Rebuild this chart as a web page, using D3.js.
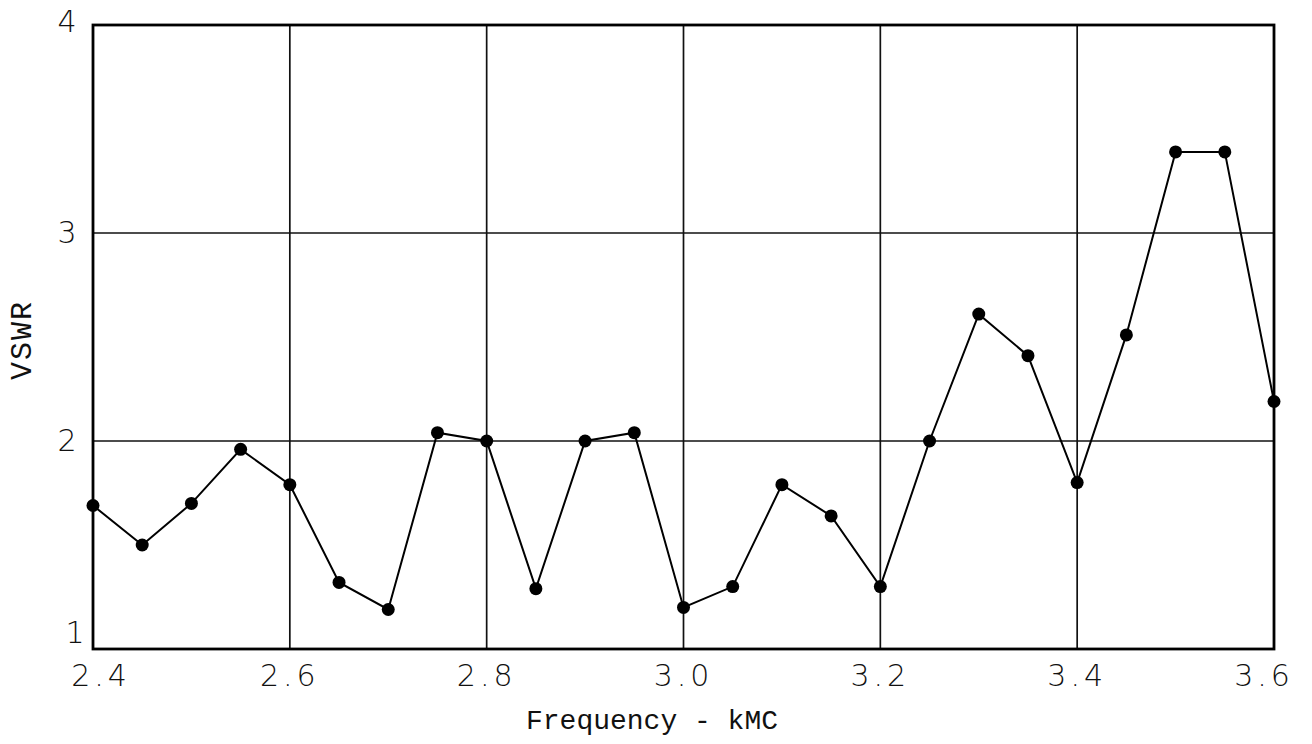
<!DOCTYPE html>
<html>
<head>
<meta charset="utf-8">
<script src="https://cdn.jsdelivr.net/npm/d3@7"></script>
<style>
  html, body { margin: 0; padding: 0; background: #fff; }
  #chart { width: 1312px; height: 744px; }
</style>
</head>
<body>
<div id="chart"></div>
<script>
// VSWR measured every 0.05 kMC from 2.4 to 3.6
const frequency = [2.40, 2.45, 2.50, 2.55, 2.60, 2.65, 2.70, 2.75, 2.80, 2.85, 2.90, 2.95, 3.00,
                   3.05, 3.10, 3.15, 3.20, 3.25, 3.30, 3.35, 3.40, 3.45, 3.50, 3.55, 3.60];
const vswr = [1.69, 1.50, 1.70, 1.96, 1.79, 1.32, 1.19, 2.04, 2.00, 1.29, 2.00, 2.04, 1.20,
              1.30, 1.79, 1.64, 1.30, 2.00, 2.61, 2.41, 1.80, 2.51, 3.39, 3.39, 2.19];
const xTicks = [2.4, 2.6, 2.8, 3.0, 3.2, 3.4, 3.6];
const xTickLabels = ["2.4", "2.6", "2.8", "3.0", "3.2", "3.4", "3.6"];
const yTicks = [1, 2, 3, 4];
const yTickLabels = ["1", "2", "3", "4"];
const xTitle = "Frequency - kMC";
const yTitle = "VSWR";

const margin = { top: 25, right: 38, bottom: 95, left: 93 };
const fullW = 1312, fullH = 744;
const width = fullW - margin.left - margin.right;
const height = fullH - margin.top - margin.bottom;

const svg = d3.select("#chart").append("svg")
  .attr("width", fullW)
  .attr("height", fullH);

const g = svg.append("g")
  .attr("transform", `translate(${margin.left},${margin.top})`);

const x = d3.scaleLinear().domain([2.4, 3.6]).range([0, width]);
const y = d3.scaleLinear().domain([1, 4]).range([height, 0]);

// grid lines
g.append("g")
  .selectAll("line")
  .data(xTicks.slice(1, -1))
  .join("line")
  .attr("x1", d => x(d)).attr("x2", d => x(d))
  .attr("y1", 0).attr("y2", height)
  .attr("stroke", "#111").attr("stroke-width", 1.7);

g.append("g")
  .selectAll("line")
  .data(yTicks.slice(1, -1))
  .join("line")
  .attr("x1", 0).attr("x2", width)
  .attr("y1", d => y(d)).attr("y2", d => y(d))
  .attr("stroke", "#111").attr("stroke-width", 1.7);

// frame
g.append("rect")
  .attr("x", 0).attr("y", 0)
  .attr("width", width).attr("height", height)
  .attr("fill", "none")
  .attr("stroke", "#000")
  .attr("stroke-width", 2.8);

// tick labels
const tickFont = "'DejaVu Sans', sans-serif";

g.append("g")
  .selectAll("text")
  .data(xTicks)
  .join("text")
  .attr("x", (d, i) => x(d) + (i === 0 ? 8 : i === xTicks.length - 1 ? -10 : 0))
  .attr("y", height + 37)
  .attr("text-anchor", "middle")
  .attr("font-family", tickFont)
  .attr("font-weight", 200)
  .attr("font-size", 30)
  .attr("letter-spacing", 4)
  .attr("fill", "#111")
  .text((d, i) => xTickLabels[i]);

g.append("g")
  .selectAll("text")
  .data(yTicks)
  .join("text")
  .attr("x", (d, i) => i === 0 ? -18 : -26)
  .attr("y", (d, i) => y(d) + (i === 0 ? -6 : i === yTicks.length - 1 ? 7 : 10))
  .attr("text-anchor", "middle")
  .attr("font-family", tickFont)
  .attr("font-weight", 200)
  .attr("font-size", 30)
  .attr("fill", "#111")
  .text((d, i) => yTickLabels[i]);

// axis titles
svg.append("text")
  .attr("x", 652)
  .attr("y", 729)
  .attr("text-anchor", "middle")
  .attr("font-family", "'Liberation Mono', monospace")
  .attr("font-size", 28)
  .attr("fill", "#111")
  .text(xTitle);

svg.append("text")
  .attr("transform", "translate(31,340) rotate(-90)")
  .attr("text-anchor", "middle")
  .attr("font-family", "'Liberation Mono', monospace")
  .attr("font-size", 30)
  .attr("letter-spacing", 2)
  .attr("fill", "#111")
  .text(yTitle);

// data line and markers
const points = frequency.map((f, i) => ({ f, v: vswr[i] }));

g.append("path")
  .datum(points)
  .attr("fill", "none")
  .attr("stroke", "#000")
  .attr("stroke-width", 2)
  .attr("d", d3.line().x(d => x(d.f)).y(d => y(d.v)));

g.append("g")
  .selectAll("circle")
  .data(points)
  .join("circle")
  .attr("cx", d => x(d.f))
  .attr("cy", d => y(d.v))
  .attr("r", 6.5)
  .attr("fill", "#000");
</script>
</body>
</html>
